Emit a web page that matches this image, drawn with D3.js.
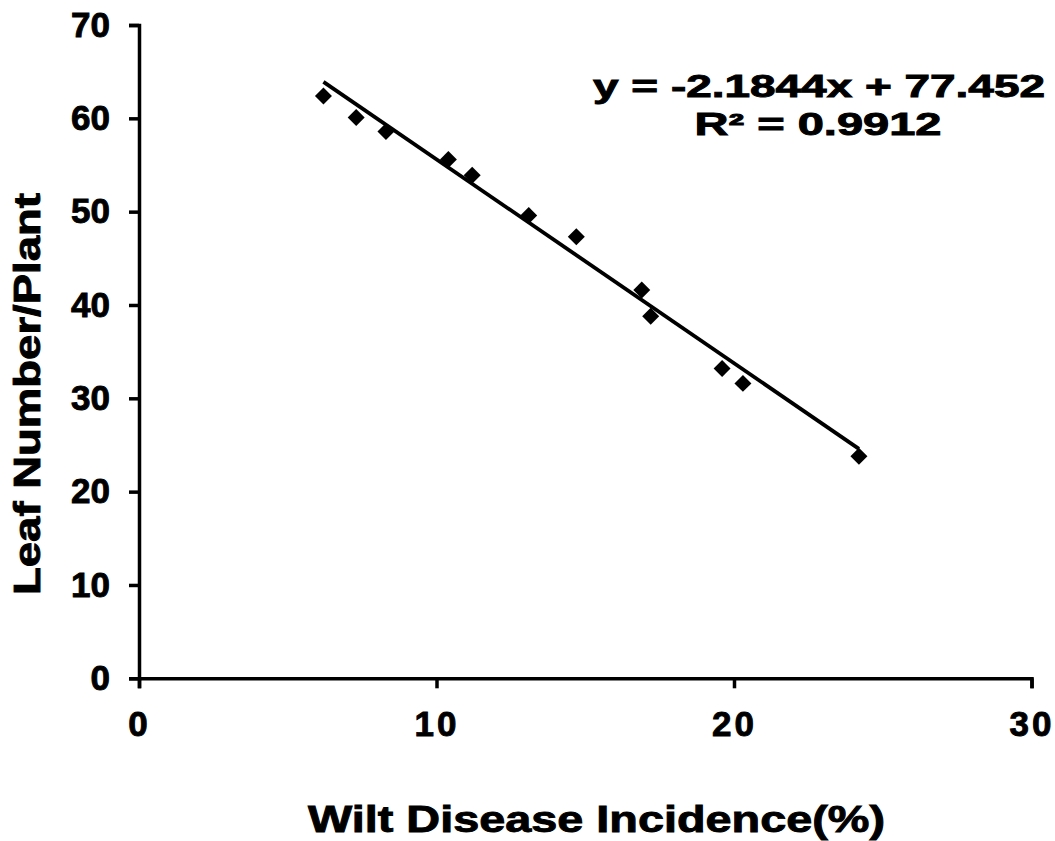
<!DOCTYPE html>
<html>
<head>
<meta charset="utf-8">
<script src="https://cdn.jsdelivr.net/npm/d3@7"></script>
<style>
  body { margin: 0; background: #fff; }
  text { font-family: "Liberation Sans", Arial, sans-serif; font-weight: bold; fill: #000; stroke: #000; stroke-width: 0.9px; }
</style>
</head>
<body>
<div id="chart"></div>
<script>
// data
const wiltIncidence = [6.2, 7.3, 8.3, 10.4, 11.2, 13.1, 14.7, 16.9, 17.2, 19.6, 20.3, 24.2];
const leafNumber = [62.4, 60.1, 58.6, 55.6, 53.9, 49.6, 47.3, 41.6, 38.8, 33.2, 31.6, 23.8];
const xTicks = [0, 10, 20, 30];
const yTicks = [0, 10, 20, 30, 40, 50, 60, 70];
const slope = -2.1844,
  intercept = 77.452;
const equationLines = ["y = -2.1844x + 77.452", "R\u00B2 = 0.9912"];

const points = wiltIncidence.map((d, i) => ({ x: d, y: leafNumber[i] }));

const width = 1055,
  height = 841;

const svg = d3
  .select("#chart")
  .append("svg")
  .attr("width", width)
  .attr("height", height);

const x = d3.scaleLinear().domain([0, 30]).range([139, 1031.5]);
const y = d3.scaleLinear().domain([0, 70]).range([678.3, 25]);

// axes
const xAxis = svg
  .append("g")
  .attr("transform", `translate(0,${y(0)})`)
  .call(d3.axisBottom(x).tickValues(xTicks).tickSize(10).tickPadding(23));
const yAxis = svg
  .append("g")
  .attr("transform", `translate(${x(0)},0)`)
  .call(d3.axisLeft(y).tickValues(yTicks).tickSize(10).tickPadding(19));

[xAxis, yAxis].forEach((g) => {
  g.selectAll("path, line").attr("stroke", "#000").attr("stroke-width", 3.5);
  g.select(".domain").attr("fill", "none");
  g.selectAll("text").style("font-size", "35px").attr("fill", "#000");
});
xAxis.selectAll("text").style("letter-spacing", "3px");

// trend line over the data range
const xExtent = d3.extent(wiltIncidence);
const trend = xExtent.map((v) => ({ x: v, y: slope * v + intercept }));
svg
  .append("path")
  .datum(trend)
  .attr("fill", "none")
  .attr("stroke", "#000")
  .attr("stroke-width", 3.8)
  .attr(
    "d",
    d3
      .line()
      .x((d) => x(d.x))
      .y((d) => y(d.y))
  );

// diamond markers
svg
  .selectAll(".pt")
  .data(points)
  .join("path")
  .attr("class", "pt")
  .attr("d", d3.symbol(d3.symbolSquare, 144)())
  .attr("transform", (d) => `translate(${x(d.x)},${y(d.y)}) rotate(45)`)
  .attr("fill", "#000");

// equation
svg
  .append("text")
  .attr("x", 819)
  .attr("y", 97)
  .attr("text-anchor", "middle")
  .attr("textLength", 452)
  .attr("lengthAdjust", "spacingAndGlyphs")
  .style("font-size", "31px")
  .text(equationLines[0]);
svg
  .append("text")
  .attr("x", 818)
  .attr("y", 135)
  .attr("text-anchor", "middle")
  .attr("textLength", 247)
  .attr("lengthAdjust", "spacingAndGlyphs")
  .style("font-size", "31px")
  .text(equationLines[1]);

// axis titles
svg
  .append("text")
  .attr("x", 596.5)
  .attr("y", 832)
  .attr("text-anchor", "middle")
  .attr("textLength", 577)
  .attr("lengthAdjust", "spacingAndGlyphs")
  .style("font-size", "37px")
  .text("Wilt Disease Incidence(%)");

svg
  .append("text")
  .attr("transform", "translate(40,394) rotate(-90)")
  .attr("text-anchor", "middle")
  .attr("textLength", 402)
  .attr("lengthAdjust", "spacingAndGlyphs")
  .style("font-size", "37px")
  .text("Leaf Number/Plant");
</script>
</body>
</html>
